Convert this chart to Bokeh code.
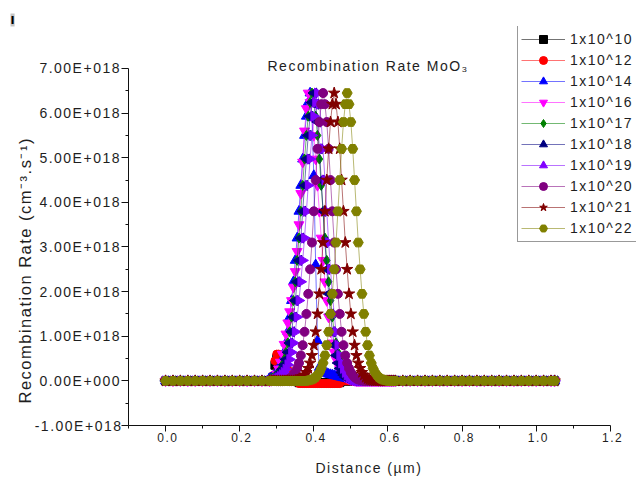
import math
from bokeh.plotting import figure
from bokeh.models import Range1d, FixedTicker, Label, Legend, LegendItem, Title
from bokeh.embed import file_html
from bokeh.resources import INLINE

# ---------------- data (rate values in units of 1e18 cm^-3 s^-1) ----------------
distance_um = [
    0.00, 0.02, 0.04, 0.06, 0.08, 0.10, 0.12, 0.14, 0.16, 0.18, 0.20, 0.22, 0.24, 0.26,
    0.280, 0.285, 0.290, 0.295, 0.300, 0.305, 0.310, 0.315, 0.320, 0.325,
    0.330, 0.335, 0.340, 0.345, 0.350, 0.355, 0.360, 0.365, 0.370, 0.375,
    0.380, 0.385, 0.390, 0.395, 0.400, 0.405, 0.410, 0.415, 0.420, 0.425,
    0.430, 0.435, 0.440, 0.445, 0.450, 0.455, 0.460, 0.465, 0.470, 0.475,
    0.480, 0.485, 0.490, 0.495, 0.500, 0.505, 0.510, 0.515, 0.520, 0.525,
    0.530, 0.535, 0.540, 0.545, 0.550, 0.555, 0.560, 0.565, 0.570, 0.575,
    0.580, 0.585, 0.590, 0.595, 0.600, 0.605, 0.610, 0.615, 0.620,
    0.64, 0.66, 0.68, 0.70, 0.72, 0.74, 0.76, 0.78, 0.80, 0.82, 0.84,
    0.86, 0.88, 0.90, 0.92, 0.94, 0.96, 0.98, 1.00, 1.02, 1.04, 1.05,
]

rate_1e10 = [
    0, 0, 0, 0, 0, 0, 0, 0, 0, 0, 0, 0, 0, 0,
    0, 0.02, 0.08, 0.35, 0.5, 0.5, 0.46, 0.4, 0.33, 0.26,
    0.19, 0.13, 0.08, 0.05, 0.02, 0, -0.04, -0.04, -0.04, -0.04,
    -0.04, -0.04, -0.04, -0.04, -0.04, -0.04, -0.04, -0.04, -0.04, -0.04,
    -0.04, -0.04, -0.04, -0.04, -0.04, -0.04, -0.04, -0.04, -0.04, 0,
    0, 0, 0, 0, 0, 0, 0, 0, 0, 0,
    0, 0, 0, 0, 0, 0, 0, 0, 0, 0,
    0, 0, 0, 0, 0, 0, 0, 0, 0,
    0, 0, 0, 0, 0, 0, 0, 0, 0, 0, 0, 0, 0, 0, 0, 0, 0, 0, 0, 0, 0, 0,
]

rate_1e12 = [
    0, 0, 0, 0, 0, 0, 0, 0, 0, 0, 0, 0, 0, 0,
    0, 0.03, 0.12, 0.45, 0.6, 0.6, 0.56, 0.49, 0.41, 0.33,
    0.25, 0.18, 0.12, 0.07, 0.03, 0.01, -0.06, -0.06, -0.06, -0.06,
    -0.06, -0.06, -0.06, -0.06, -0.06, -0.06, -0.06, -0.06, -0.06, -0.06,
    -0.06, -0.06, -0.06, -0.06, -0.06, -0.06, -0.06, -0.06, -0.06, 0,
    0, 0, 0, 0, 0, 0, 0, 0, 0, 0,
    0, 0, 0, 0, 0, 0, 0, 0, 0, 0,
    0, 0, 0, 0, 0, 0, 0, 0, 0,
    0, 0, 0, 0, 0, 0, 0, 0, 0, 0, 0, 0, 0, 0, 0, 0, 0, 0, 0, 0, 0, 0,
]

rate_1e14 = [
    0, 0, 0, 0, 0, 0, 0, 0, 0, 0, 0, 0, 0, 0,
    0.05, 0.07, 0.1, 0.14, 0.19, 0.26, 0.36, 0.48, 0.64, 0.85,
    1.1, 1.43, 1.8, 2.22, 2.7, 3.2, 3.8, 4.38, 4.97, 5.5,
    5.93, 6.24, 6.45, 5.9, 4.6, 2.6, 0.9, 0.3, 0.22, 0.2,
    0.18, 0.17, 0.15, 0.14, 0.13, 0.12, 0.11, 0.1, 0.09, 0.08,
    0.07, 0.06, 0.05, 0.04, 0.03, 0.02, 0.01, 0, 0, 0,
    0, 0, 0, 0, 0, 0, 0, 0, 0, 0,
    0, 0, 0, 0, 0, 0, 0, 0, 0,
    0, 0, 0, 0, 0, 0, 0, 0, 0, 0, 0, 0, 0, 0, 0, 0, 0, 0, 0, 0, 0, 0,
]

rate_1e16 = [
    0, 0, 0, 0, 0, 0, 0, 0, 0, 0, 0, 0, 0, 0,
    0, 0.01, 0.03, 0.07, 0.15, 0.27, 0.42, 0.6, 0.82, 1.05,
    1.3, 1.55, 1.8, 2.1, 2.45, 2.9, 3.5, 4.2, 4.9, 5.6,
    6.1, 6.45, 6.24, 5.93, 5.5, 4.97, 4.38, 3.8, 3.2, 2.7,
    2.22, 1.8, 1.43, 1.1, 0.85, 0.64, 0.48, 0.36, 0.26, 0.19,
    0.14, 0.1, 0.07, 0.05, 0.03, 0.02, 0.01, 0, 0, 0,
    0, 0, 0, 0, 0, 0, 0, 0, 0, 0,
    0, 0, 0, 0, 0, 0, 0, 0, 0,
    0, 0, 0, 0, 0, 0, 0, 0, 0, 0, 0, 0, 0, 0, 0, 0, 0, 0, 0, 0, 0, 0,
]

rate_1e17 = [
    0, 0, 0, 0, 0, 0, 0, 0, 0, 0, 0, 0, 0, 0,
    0.03, 0.05, 0.07, 0.1, 0.14, 0.19, 0.26, 0.36, 0.48, 0.64,
    0.85, 1.1, 1.43, 1.8, 2.22, 2.7, 3.2, 3.8, 4.38, 4.97,
    5.5, 5.93, 6.24, 6.45, 6.24, 5.93, 5.5, 4.97, 4.38, 3.8,
    3.2, 2.7, 2.22, 1.8, 1.43, 1.1, 0.85, 0.64, 0.48, 0.36,
    0.26, 0.19, 0.14, 0.1, 0.07, 0.05, 0.03, 0.02, 0.01, 0,
    0, 0, 0, 0, 0, 0, 0, 0, 0, 0,
    0, 0, 0, 0, 0, 0, 0, 0, 0,
    0, 0, 0, 0, 0, 0, 0, 0, 0, 0, 0, 0, 0, 0, 0, 0, 0, 0, 0, 0, 0, 0,
]

rate_1e18 = [
    0, 0, 0, 0, 0, 0, 0, 0, 0, 0, 0, 0, 0, 0,
    0.02, 0.03, 0.05, 0.07, 0.1, 0.14, 0.19, 0.26, 0.36, 0.48,
    0.64, 0.85, 1.1, 1.43, 1.8, 2.22, 2.7, 3.2, 3.8, 4.38,
    4.97, 5.5, 5.93, 6.24, 6.45, 6.2, 5.8, 5.2, 4.5, 3.8,
    3.1, 2.5, 1.95, 1.5, 1.1, 0.8, 0.57, 0.4, 0.28, 0.19,
    0.13, 0.08, 0.05, 0.03, 0.02, 0.01, 0, 0, 0, 0,
    0, 0, 0, 0, 0, 0, 0, 0, 0, 0,
    0, 0, 0, 0, 0, 0, 0, 0, 0,
    0, 0, 0, 0, 0, 0, 0, 0, 0, 0, 0, 0, 0, 0, 0, 0, 0, 0, 0, 0, 0, 0,
]

rate_1e19 = [
    0, 0, 0, 0, 0, 0, 0, 0, 0, 0, 0, 0, 0, 0,
    0, 0.01, 0.02, 0.03, 0.05, 0.07, 0.1, 0.14, 0.19, 0.26,
    0.36, 0.48, 0.64, 0.85, 1.1, 1.43, 1.8, 2.22, 2.7, 3.2,
    3.8, 4.38, 4.97, 5.5, 5.93, 6.24, 6.45, 6.2, 5.8, 5.2,
    4.5, 3.8, 3.1, 2.5, 1.95, 1.5, 1.1, 0.8, 0.57, 0.4,
    0.28, 0.19, 0.13, 0.08, 0.05, 0.03, 0.02, 0.01, 0, 0,
    0, 0, 0, 0, 0, 0, 0, 0, 0, 0,
    0, 0, 0, 0, 0, 0, 0, 0, 0,
    0, 0, 0, 0, 0, 0, 0, 0, 0, 0, 0, 0, 0, 0, 0, 0, 0, 0, 0, 0, 0, 0,
]

rate_1e20 = [
    0, 0, 0, 0, 0, 0, 0, 0, 0, 0, 0, 0, 0, 0,
    0, 0, 0, 0, 0, 0, 0, 0, 0.01, 0.02,
    0.03, 0.05, 0.08, 0.13, 0.19, 0.28, 0.4, 0.57, 0.8, 1.1,
    1.5, 1.95, 2.5, 3.1, 3.8, 4.5, 5.2, 5.8, 6.2, 6.45,
    6.2, 5.8, 5.2, 4.5, 3.8, 3.1, 2.5, 1.95, 1.5, 1.1,
    0.8, 0.57, 0.4, 0.28, 0.19, 0.13, 0.08, 0.05, 0.03, 0.02,
    0.01, 0, 0, 0, 0, 0, 0, 0, 0, 0,
    0, 0, 0, 0, 0, 0, 0, 0, 0,
    0, 0, 0, 0, 0, 0, 0, 0, 0, 0, 0, 0, 0, 0, 0, 0, 0, 0, 0, 0, 0, 0,
]

rate_1e21 = [
    0, 0, 0, 0, 0, 0, 0, 0, 0, 0, 0, 0, 0, 0,
    0, 0, 0, 0, 0, 0, 0, 0, 0, 0,
    0, 0, 0, 0, 0.01, 0.02, 0.03, 0.05, 0.08, 0.13,
    0.19, 0.28, 0.4, 0.57, 0.8, 1.1, 1.5, 1.95, 2.5, 3.1,
    3.8, 4.5, 5.2, 5.8, 6.2, 6.45, 6.2, 5.8, 5.2, 4.5,
    3.8, 3.1, 2.5, 1.95, 1.5, 1.1, 0.8, 0.57, 0.4, 0.28,
    0.19, 0.13, 0.08, 0.05, 0.03, 0.02, 0.01, 0, 0, 0,
    0, 0, 0, 0, 0, 0, 0, 0, 0,
    0, 0, 0, 0, 0, 0, 0, 0, 0, 0, 0, 0, 0, 0, 0, 0, 0, 0, 0, 0, 0, 0,
]

rate_1e22 = [
    0, 0, 0, 0, 0, 0, 0, 0, 0, 0, 0, 0, 0, 0,
    0, 0, 0, 0, 0, 0, 0, 0, 0, 0,
    0, 0, 0, 0, 0, 0, 0, 0, 0, 0,
    0, 0.01, 0.02, 0.03, 0.05, 0.08, 0.13, 0.19, 0.28, 0.4,
    0.57, 0.8, 1.1, 1.5, 1.95, 2.5, 3.1, 3.8, 4.5, 5.2,
    5.8, 6.2, 6.45, 6.2, 5.8, 5.2, 4.5, 3.8, 3.1, 2.5,
    1.95, 1.5, 1.1, 0.8, 0.57, 0.4, 0.28, 0.19, 0.13, 0.08,
    0.05, 0.03, 0.02, 0.01, 0, 0, 0, 0, 0,
    0, 0, 0, 0, 0, 0, 0, 0, 0, 0, 0, 0, 0, 0, 0, 0, 0, 0, 0, 0, 0, 0,
]

series_labels = ["1x10^10", "1x10^12", "1x10^14", "1x10^16", "1x10^17",
                 "1x10^18", "1x10^19", "1x10^20", "1x10^21", "1x10^22"]
series_values = [rate_1e10, rate_1e12, rate_1e14, rate_1e16, rate_1e17,
                 rate_1e18, rate_1e19, rate_1e20, rate_1e21, rate_1e22]

x_tick_values = [0.0, 0.2, 0.4, 0.6, 0.8, 1.0, 1.2]
x_tick_labels = ["0.0", "0.2", "0.4", "0.6", "0.8", "1.0", "1.2"]
y_tick_values = [-1, 0, 1, 2, 3, 4, 5, 6, 7]
y_tick_labels = ["-1.00E+018", "0.00E+000", "1.00E+018", "2.00E+018", "3.00E+018",
                 "4.00E+018", "5.00E+018", "6.00E+018", "7.00E+018"]

# ---------------- styles ----------------
series_colors = ["#000000", "#ff0000", "#0000ff", "#ff00ff", "#008000",
                 "#000080", "#8000ff", "#800080", "#800000", "#808000"]
series_markers = ["square", "circle", "triangle", "inverted_triangle", "diamond",
                  "triangle", "triangle", "circle", "star", "hex"]
series_angles = [0, 0, 0, 0, 0, math.pi / 2, -math.pi / 2, 0, 0, 0]
series_sizes = [8, 8, 10, 10, 10, 10, 10, 9, 12, 10]

for vals in series_values:
    if len(vals) != len(distance_um):
        raise ValueError("length mismatch %d vs %d" % (len(vals), len(distance_um)))

FONT = "Liberation Sans"
TEXT = "#1e1e1e"

# Frame spans canvas x 128..636 and y 26..425; axes drawn only over their ranges.
p = figure(width=636, height=478,
           x_range=Range1d(-0.1, 1.2707), y_range=Range1d(-1, 7.941),
           output_backend="svg", toolbar_location=None,
           min_border_left=128, min_border_right=0,
           min_border_top=26, min_border_bottom=53)
p.styles = {"letter-spacing": "1.5px"}
p.outline_line_color = None
p.grid.visible = False
p.background_fill_color = "white"
p.border_fill_color = "white"

p.xaxis.bounds = (-0.1, 1.2)
p.yaxis.bounds = (-1, 7)
p.xaxis.ticker = FixedTicker(ticks=x_tick_values,
                             minor_ticks=[-0.1, 0.1, 0.3, 0.5, 0.7, 0.9, 1.1])
p.xaxis.major_label_overrides = dict(zip(x_tick_values, x_tick_labels))
p.yaxis.ticker = FixedTicker(ticks=y_tick_values,
                             minor_ticks=[-0.5, 0.5, 1.5, 2.5, 3.5, 4.5, 5.5, 6.5])
p.yaxis.major_label_overrides = dict(zip(y_tick_values, y_tick_labels))

for ax, tout in ((p.xaxis, 6), (p.yaxis, 7)):
    ax.axis_line_color = "#111111"
    ax.axis_line_width = 1
    ax.major_tick_line_color = "#111111"
    ax.minor_tick_line_color = "#111111"
    ax.major_tick_in = 0
    ax.major_tick_out = tout
    ax.minor_tick_in = 0
    ax.minor_tick_out = 3
    ax.major_label_text_font = FONT
    ax.major_label_text_color = TEXT
p.xaxis.major_label_text_font_size = "12px"
p.yaxis.major_label_text_font_size = "14px"
p.xaxis.major_label_standoff = 1
p.yaxis.major_label_standoff = 14   # compensates the letter spacing of right-aligned labels

# axis titles as left-aligned titles in the side panels
p.add_layout(Title(text="Recombination Rate (cm\u207b\u00b3.s\u207b\u00b9)",
                   align="left", offset=22, standoff=-5, vertical_align="bottom",
                   text_font=FONT, text_font_size="16.5px", text_font_style="normal",
                   text_color=TEXT), "left")
# the leading empty line lowers the x title to its place under the tick labels
p.add_layout(Title(text="\nDistance (\u00b5m)", align="left", offset=187,
                   standoff=0, vertical_align="top", text_line_height=0.95,
                   text_font=FONT, text_font_size="14px", text_font_style="normal",
                   text_color=TEXT), "below")

items = []
for lab, vals, col, mk, ang, sz in zip(series_labels, series_values, series_colors,
                                        series_markers, series_angles, series_sizes):
    ln = p.line(distance_um, vals, line_color=col, line_width=1, line_alpha=0.55)
    sc = p.scatter(distance_um, vals, marker=mk, size=sz, angle=ang,
                   fill_color=col, line_color=col)
    items.append(LegendItem(label=lab, renderers=[ln, sc]))

legend = Legend(items=items, location=(389, 183), margin=0, padding=3, spacing=1,
                glyph_width=44, glyph_height=20, label_height=20, label_width=72,
                label_standoff=5,
                label_text_font=FONT, label_text_font_size="14px",
                label_text_color=TEXT, border_line_color="#333333",
                border_line_width=1.5, background_fill_color="white",
                background_fill_alpha=1.0)
p.add_layout(legend)

# chart title inside the frame (frame origin = canvas (128, 425))
p.add_layout(Label(x=139, y=359.5, x_units="screen", y_units="screen",
                   text="Recombination Rate MoO\u2083", text_align="left",
                   text_baseline="alphabetic", text_font=FONT,
                   text_font_size="14px", text_color=TEXT))

# small layer marker at the top-left corner
p.title.text = "I"
p.title.align = "left"
p.title.offset = -118
p.title.standoff = 0
p.title.text_font = "DejaVu Sans"
p.title.text_font_size = "11px"
p.title.text_font_style = "bold"
p.title.text_color = "#000000"
p.title.background_fill_color = "#c4c4c4"

open("out.html", "w").write(file_html(p, INLINE))
